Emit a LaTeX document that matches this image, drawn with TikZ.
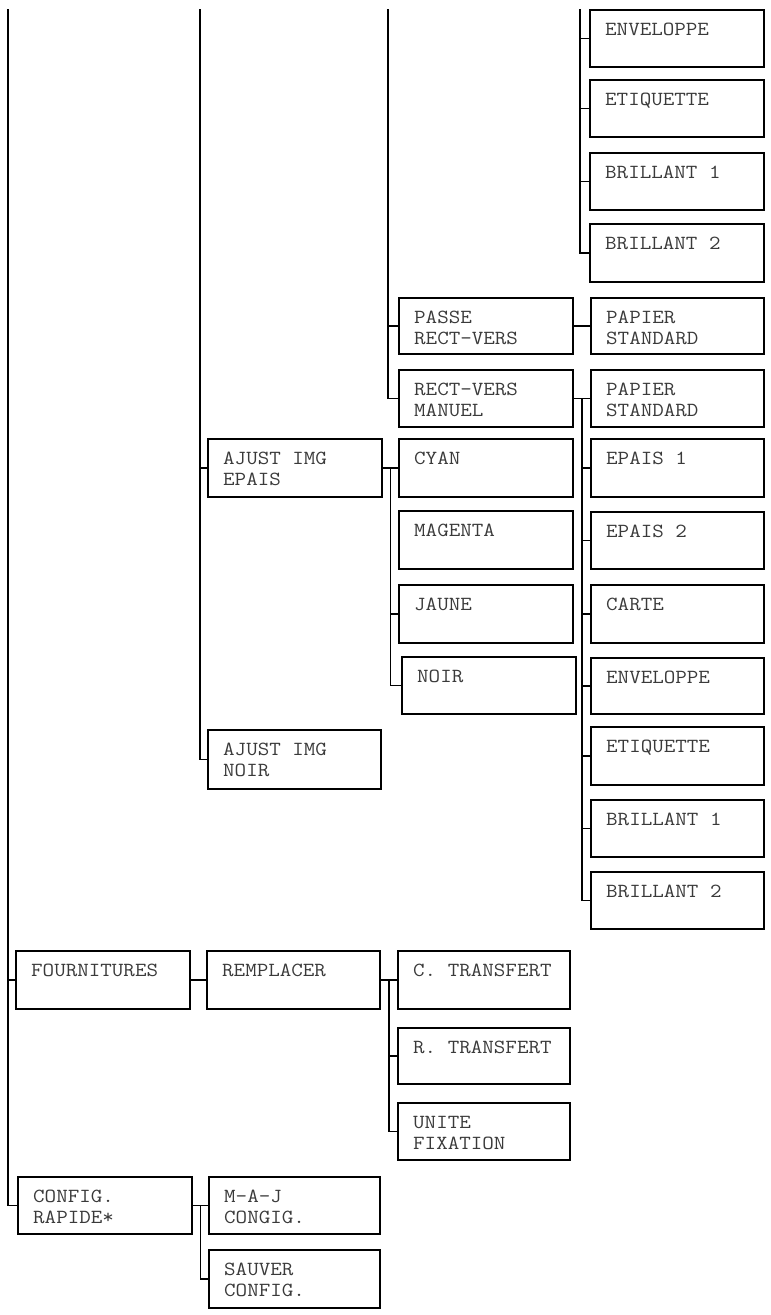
\documentclass[tikz,border=0pt]{standalone}
\usepackage{fontspec}
\newfontfamily\boxfont{Latin Modern Mono}[FakeStretch=1.12]
\usetikzlibrary{calc}
\definecolor{txtgray}{HTML}{3A3A3A}
\tikzset{
  bx/.style={draw=black, line width=1.9pt, inner sep=0pt, anchor=north west},
  txt/.style={anchor=base west, inner sep=0pt, text=txtgray, xshift=16pt, yshift=-26pt,
    font=\boxfont\fontsize{20}{21.7}\selectfont},
  ln/.style={draw=black, line width=1.9pt}
}
\newcommand\mybox[6]{%
  \node[bx, minimum width={(#4-#2)*1pt}, minimum height={(#5-#3)*1pt},
    label={[txt]north west:{\parbox[t]{150pt}{#6}}}] (#1) at (#2,#3) {};}
\begin{document}
\begin{tikzpicture}[x=1pt,y=-1pt]
\useasboundingbox (0,0) rectangle (771,1315);
% top-right column
\mybox{envA}{589}{9}{763}{66}{ENVELOPPE}
\mybox{etqA}{589}{79}{763}{136}{ETIQUETTE}
\mybox{brUnA}{589}{152}{763}{209}{BRILLANT 1}
\mybox{brDeuxA}{589}{223}{763}{281}{BRILLANT 2}
% recto-verso
\mybox{passe}{398}{297}{572}{353}{PASSE\\RECT-VERS}
\mybox{psA}{590}{297}{763}{353}{PAPIER\\STANDARD}
\mybox{rvm}{398}{369}{572}{426}{RECT-VERS\\MANUEL}
\mybox{psB}{590}{369}{763}{426}{PAPIER\\STANDARD}
\mybox{epUn}{590}{438}{763}{496}{EPAIS 1}
\mybox{epDeux}{590}{511}{763}{568}{EPAIS 2}
\mybox{carte}{590}{584}{763}{642}{CARTE}
\mybox{envB}{590}{657}{763}{713}{ENVELOPPE}
\mybox{etqB}{590}{726}{763}{784}{ETIQUETTE}
\mybox{brUnB}{590}{799}{763}{856}{BRILLANT 1}
\mybox{brDeuxB}{590}{871}{763}{928}{BRILLANT 2}
% ajust img
\mybox{aje}{207}{438}{381}{496}{AJUST IMG\\EPAIS}
\mybox{cyan}{398}{438}{572}{496}{CYAN}
\mybox{mag}{398}{510}{572}{568}{MAGENTA}
\mybox{jaune}{398}{584}{572}{642}{JAUNE}
\mybox{noir}{401}{656}{575}{713}{NOIR}
\mybox{ajn}{207}{729}{380}{788}{AJUST IMG\\NOIR}
% fournitures
\mybox{fourn}{15}{950}{189}{1008}{FOURNITURES}
\mybox{rempl}{206}{950}{379}{1008}{REMPLACER}
\mybox{ct}{397}{950}{569}{1008}{C. TRANSFERT}
\mybox{rt}{397}{1027}{569}{1083}{R. TRANSFERT}
\mybox{uf}{397}{1102}{569}{1159}{UNITE\\FIXATION}
% config
\mybox{config}{17}{1176}{191}{1233}{CONFIG.\\RAPIDE*}
\mybox{maj}{208}{1176}{379}{1233}{M-A-J\\CONGIG.}
\mybox{sauv}{208}{1249}{379}{1307}{SAUVER\\CONFIG.}

% trunks coming from above
\coordinate (tA) at (8,9);
\coordinate (tB) at (200,9);
\coordinate (tC) at (388,9);
\coordinate (tD) at (580,9);
\draw[ln] (tA) |- (config.west);
\draw[ln] (tA |- fourn.west) -- (fourn.west);
\draw[ln] (tB) |- (ajn.west);
\draw[ln] (tB |- aje.west) -- (aje.west);
\draw[ln] (tC) |- (rvm.west);
\draw[ln] (tC |- passe.west) -- (passe.west);
\draw[ln] (tD) |- (brDeuxA.west);
\foreach \n in {envA,etqA,brUnA} \draw[ln] (tD |- \n.west) -- (\n.west);

% recto-verso branches
\draw[ln] (passe.east) -- (psA.west);
\draw[ln] (rvm.east) -- (psB.west);
\coordinate (jA) at ($(rvm.east)!0.5!(psB.west)$);
\draw[ln] (jA) |- (brDeuxB.west);
\foreach \n in {epUn,epDeux,carte,envB,etqB,brUnB} \draw[ln] (jA |- \n.west) -- (\n.west);

% ajust img branches
\draw[ln] (aje.east) -- (cyan.west);
\coordinate (jB) at ($(aje.east)!0.5!(cyan.west)$);
\draw[ln] (jB) |- (noir.west);
\draw[ln] (jB |- jaune.west) -- (jaune.west);

% fournitures branches
\draw[ln] (fourn.east) -- (rempl.west);
\draw[ln] (rempl.east) -- (ct.west);
\coordinate (jC) at ($(rempl.east)!0.5!(ct.west)$);
\draw[ln] (jC) |- (uf.west);
\draw[ln] (jC |- rt.west) -- (rt.west);

% config branches
\draw[ln] (config.east) -- (maj.west);
\coordinate (jD) at ($(config.east)!0.5!(maj.west)$);
\draw[ln] (jD) |- (sauv.west);
\end{tikzpicture}
\end{document}
